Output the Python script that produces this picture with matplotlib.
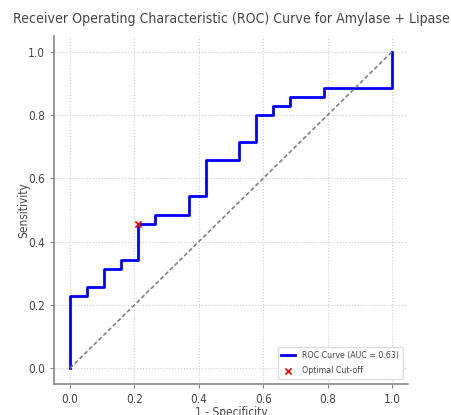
import matplotlib
matplotlib.use("Agg")
import matplotlib.pyplot as plt

# ROC curve corner points (1 - specificity, sensitivity)
fpr = [0.0, 0.0, 0.0526, 0.0526, 0.1053, 0.1053, 0.1579, 0.1579, 0.2105, 0.2105,
       0.2632, 0.2632, 0.3684, 0.3684, 0.4211, 0.4211, 0.5263, 0.5263, 0.5789, 0.5789,
       0.6316, 0.6316, 0.6842, 0.6842, 0.7895, 0.7895, 1.0, 1.0]
tpr = [0.0, 0.2286, 0.2286, 0.2571, 0.2571, 0.3143, 0.3143, 0.3429, 0.3429, 0.4571,
       0.4571, 0.4857, 0.4857, 0.5429, 0.5429, 0.6571, 0.6571, 0.7143, 0.7143, 0.8,
       0.8, 0.8286, 0.8286, 0.8571, 0.8571, 0.8857, 0.8857, 1.0]
auc_value = 0.63
cutoff_fpr = [0.2105]
cutoff_tpr = [0.4571]
chance = [0.0, 1.0]

text_color = "#444444"
spine_color = "#888888"
plt.rcParams["font.family"] = ["DejaVu Sans"]
plt.rcParams["font.stretch"] = "condensed"

fig = plt.figure(figsize=(4.51, 4.15), dpi=100)
ax = fig.add_axes([54/451, 31/415, 354/451, 348/415])

ax.plot(fpr, tpr, color="blue", lw=2, label=f"ROC Curve (AUC = {auc_value:.2f})")
ax.plot(chance, chance, color="gray", lw=1.2, ls=(0, (2.5, 1.5)))
ax.scatter(cutoff_fpr, cutoff_tpr, color="red", marker="x", s=20, lw=1.2,
           label="Optimal Cut-off", zorder=5)

ax.set_xlim(-0.05, 1.05)
ax.set_ylim(-0.05, 1.05)
ax.set_xticks([0.0, 0.2, 0.4, 0.6, 0.8, 1.0])
ax.set_yticks([0.0, 0.2, 0.4, 0.6, 0.8, 1.0])
ax.grid(True, ls=":", color="#cccccc", lw=0.8)
for s in ["top", "right"]:
    ax.spines[s].set_visible(False)
for s in ["left", "bottom"]:
    ax.spines[s].set_color(spine_color)
    ax.spines[s].set_linewidth(1.2)
ax.tick_params(colors=spine_color, labelcolor=text_color, labelsize=8.5, length=3, width=0.8)

ax.set_title("Receiver Operating Characteristic (ROC) Curve for Amylase + Lipase",
             color=text_color, fontsize=10.1, pad=9)
ax.set_xlabel("1 - Specificity", color=text_color, fontsize=8.5)
ax.set_ylabel("Sensitivity", color=text_color, fontsize=8.5)
ax.xaxis.set_label_coords(0.5, -0.063)
ax.yaxis.set_label_coords(-0.068, 0.5)

leg = ax.legend(loc="lower right", fontsize=6.3, frameon=True, framealpha=1,
                edgecolor="#dddddd", handlelength=1.6, labelspacing=0.75,
                borderaxespad=0.6)
for t in leg.get_texts():
    t.set_color(text_color)

fig.savefig("out.png", dpi=100)
